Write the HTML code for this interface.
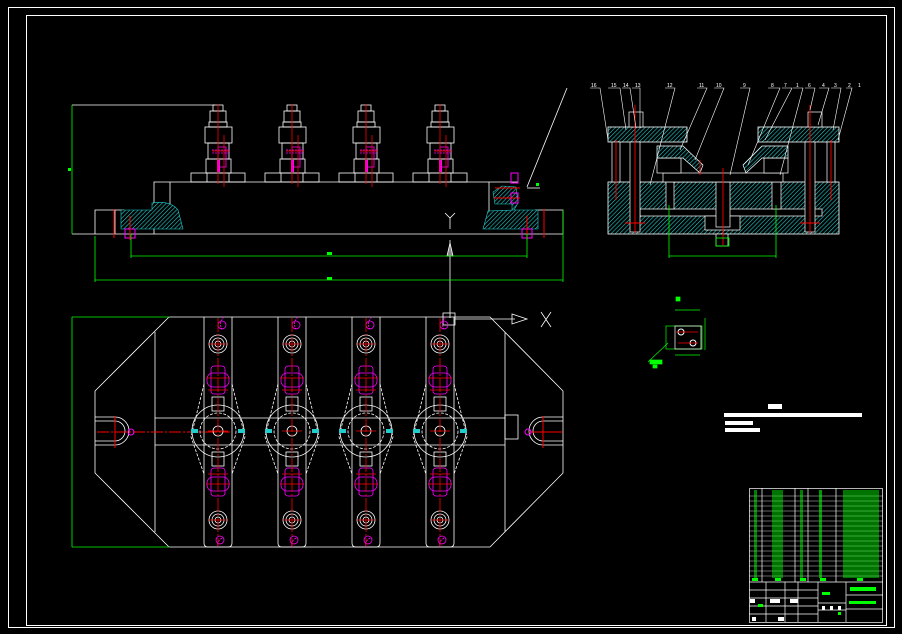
<!DOCTYPE html>
<html><head><meta charset="utf-8"><style>
html,body{margin:0;padding:0;background:#000;}
svg{display:block}
text{font-family:"Liberation Sans",sans-serif;}
</style></head><body>
<svg width="902" height="634" viewBox="0 0 902 634" xmlns="http://www.w3.org/2000/svg">
<defs>
<pattern id="h" width="3" height="3" patternUnits="userSpaceOnUse" patternTransform="rotate(45)">
<rect width="3" height="3" fill="#000"/><line x1="0" y1="0" x2="0" y2="3" stroke="#2cc" stroke-width="1.2"/>
</pattern>
<g id="clampF" fill="none" stroke="#fff" stroke-width="0.8">
<rect x="-5" y="105" width="10" height="6"/>
<rect x="-8" y="111" width="16" height="11"/>
<rect x="-9" y="122" width="18" height="5"/>
<rect x="-13" y="127" width="27" height="16"/>
<rect x="-10" y="143" width="21" height="16"/>
<rect x="-12" y="159" width="25" height="14"/>
<rect x="-27" y="173" width="54" height="9"/>
<line x1="-11" y1="173" x2="-11" y2="182"/><line x1="11" y1="173" x2="11" y2="182"/>
<rect x="0" y="147" width="8" height="20" stroke="#f0f"/>
<rect x="-1" y="160" width="3" height="12" fill="#f0f" stroke="none"/>
<line x1="-6" y1="153" x2="12" y2="153" stroke="#f0f" stroke-dasharray="2 1"/>
<line x1="-6" y1="150" x2="12" y2="150" stroke="#f0f" stroke-dasharray="2 1"/>
<line x1="0" y1="104" x2="0" y2="184" stroke="#f00"/>
<line x1="6" y1="135" x2="6" y2="187" stroke="#f00"/>
<line x1="-6" y1="151" x2="12" y2="151" stroke="#f00"/>
</g>
<g id="clampP" fill="none" stroke="#fff" stroke-width="0.8">
<path d="M-14,317 V543 Q-14,547 -10,547 H10 Q14,547 14,543 V317"/>
<circle cx="0" cy="344" r="9"/><circle cx="0" cy="344" r="6"/><circle cx="0" cy="344" r="3"/>
<circle cx="0" cy="520" r="9"/><circle cx="0" cy="520" r="6"/><circle cx="0" cy="520" r="3"/>
<path d="M-14,384 L-27,437 L-14,474 M14,384 L27,437 L14,474" stroke-dasharray="3 1.5"/>
<circle cx="0" cy="431" r="26"/>
<circle cx="0" cy="431" r="18" stroke-dasharray="3 1.5"/>
<circle cx="0" cy="431" r="5"/>
<rect x="-6" y="397" width="12" height="14"/><rect x="-6" y="452" width="12" height="14"/>
<rect x="-7" y="366" width="14" height="28" stroke="#f0f" rx="3"/>
<rect x="-11" y="373" width="22" height="14" stroke="#f0f" rx="6"/>
<rect x="-7" y="468" width="14" height="28" stroke="#f0f" rx="3"/>
<rect x="-11" y="477" width="22" height="14" stroke="#f0f" rx="6"/>
<path d="M6,317 q-6,6 -2,12 M4,538 q-6,4 -4,9" stroke="#f0f" stroke-dasharray="2 1"/>
<circle cx="4" cy="325" r="4" stroke="#f0f"/><circle cx="2" cy="540" r="4" stroke="#f0f"/>
<line x1="0" y1="318" x2="0" y2="546" stroke="#f00" stroke-dasharray="14 2 2 2"/>
<line x1="-9" y1="344" x2="9" y2="344" stroke="#f00"/><line x1="-9" y1="520" x2="9" y2="520" stroke="#f00"/>
<line x1="-12" y1="378" x2="12" y2="378" stroke="#f00"/><line x1="-12" y1="484" x2="12" y2="484" stroke="#f00"/>
<line x1="-10" y1="390" x2="10" y2="390" stroke="#f00"/><line x1="-10" y1="474" x2="10" y2="474" stroke="#f00"/>
<line x1="-10" y1="431" x2="10" y2="431" stroke="#f00"/>
<rect x="-27" y="429" width="7" height="4" fill="#2cc" stroke="none"/>
<rect x="20" y="429" width="7" height="4" fill="#2cc" stroke="none"/>
</g>
</defs>

<rect width="902" height="634" fill="#000"/>
<rect x="8.5" y="7.5" width="886" height="620" fill="none" stroke="#fff" stroke-width="1"/>
<rect x="26.5" y="15.5" width="860" height="610" fill="none" stroke="#fff" stroke-width="1"/>

<!-- FRONT VIEW -->
<g fill="none" stroke="#fff" stroke-width="0.8">
<line x1="72" y1="105" x2="215" y2="105"/>
<line x1="72" y1="234" x2="563" y2="234"/>
<polyline points="154,234 154,182 518,182"/>
<line x1="170" y1="182" x2="170" y2="205"/>
<polyline points="95,234 95,210 124,210"/>
<polyline points="563,234 563,210 535,210"/>
<line x1="489" y1="182" x2="489" y2="215"/>
<line x1="115" y1="210" x2="115" y2="234"/>
</g>
<path d="M121,210 H152 V203 Q170,200 178,210 L183,229 H121 Z" fill="url(#h)" stroke="#2cc" stroke-width="0.6"/>
<path d="M538,210 H512 V204 H495 L493,192 L502,186 L516,187 L518,203 L514,210 L488,211 L483,229 H538 Z" fill="url(#h)" stroke="#2cc" stroke-width="0.6"/>
<g stroke="#f0f" stroke-width="1" fill="none">
<rect x="125" y="229" width="10" height="9"/><rect x="522" y="229" width="10" height="9"/>
<rect x="511" y="173" width="7" height="10"/><rect x="511" y="193" width="7" height="10"/>
</g>
<g stroke="#f00" stroke-width="1">
<line x1="114" y1="209" x2="114" y2="238"/><line x1="544" y1="209" x2="544" y2="238"/>
<line x1="130" y1="216" x2="130" y2="240"/><line x1="527" y1="216" x2="527" y2="240"/>
<line x1="495" y1="188" x2="520" y2="188"/><line x1="494" y1="198" x2="520" y2="198"/>
</g>
<use href="#clampF" x="218"/><use href="#clampF" x="292"/><use href="#clampF" x="366"/><use href="#clampF" x="440"/>
<g stroke="#fff" stroke-width="0.8" fill="none">
<path d="M445,213 L450,218 L455,213 M450,218 V229"/>
<line x1="450" y1="240" x2="450" y2="318"/>
<path d="M447,256 L450,243 L453,256 Z" fill="#888"/>
<line x1="527" y1="187" x2="567" y2="88"/>
<line x1="527" y1="188" x2="540" y2="188"/>
</g>
<g stroke="#0f0" stroke-width="0.8" fill="none">
<line x1="72" y1="105" x2="72" y2="234"/>
<line x1="131" y1="256" x2="527" y2="256"/><line x1="131" y1="234" x2="131" y2="258"/><line x1="527" y1="234" x2="527" y2="258"/>
<line x1="95" y1="280" x2="563" y2="280"/><line x1="95" y1="236" x2="95" y2="282"/><line x1="563" y1="210" x2="563" y2="282"/>
</g>
<rect x="327" y="252" width="5" height="3" fill="#0f0"/><rect x="327" y="277" width="5" height="3" fill="#0f0"/>
<rect x="68" y="168" width="3" height="3" fill="#0f0"/><rect x="536" y="183" width="3" height="3" fill="#0f0"/>

<!-- PLAN VIEW -->
<g fill="none" stroke="#fff" stroke-width="0.8">
<polygon points="169,317 490,317 563,391 563,473 490,547 169,547 95,473 95,391"/>
<line x1="155" y1="332" x2="155" y2="532"/><line x1="505" y1="332" x2="505" y2="532"/>
<line x1="155" y1="418" x2="505" y2="418"/><line x1="155" y1="445" x2="505" y2="445"/>
<path d="M95,417 H115 A14,14 0 0 1 115,445 H95 M95,421 H115 A10,10 0 0 1 115,441 H95"/>
<path d="M563,417 H543 A14,14 0 0 0 543,445 H563 M563,421 H543 A10,10 0 0 0 543,441 H563"/>
<rect x="505" y="415" width="13" height="24"/>
<rect x="443" y="313" width="12" height="12"/>
<line x1="455" y1="319" x2="515" y2="319"/>
<path d="M512,314 L527,319 L512,324 Z"/>
<path d="M541,312 L551,327 M551,312 L541,327"/>
</g>
<g stroke="#f00" stroke-width="1">
<line x1="97" y1="432" x2="230" y2="432" stroke-dasharray="12 2 2 2"/>
<line x1="115" y1="416" x2="115" y2="448"/><line x1="543" y1="416" x2="543" y2="448"/>
<line x1="529" y1="432" x2="562" y2="432"/>
</g>
<circle cx="131" cy="432" r="3" fill="none" stroke="#f0f"/><circle cx="528" cy="432" r="3" fill="none" stroke="#f0f"/>
<use href="#clampP" x="218"/><use href="#clampP" x="292"/><use href="#clampP" x="366"/><use href="#clampP" x="440"/>
<g stroke="#0f0" stroke-width="0.8"><line x1="72" y1="317" x2="169" y2="317"/><line x1="72" y1="547" x2="169" y2="547"/><line x1="72" y1="317" x2="72" y2="547"/></g>

<!-- SIDE VIEW -->
<rect x="608" y="182" width="231" height="52" fill="url(#h)" stroke="#fff" stroke-width="0.8"/>
<rect x="608" y="127" width="79" height="15" fill="url(#h)" stroke="#fff" stroke-width="0.8"/>
<rect x="758" y="127" width="81" height="15" fill="url(#h)" stroke="#fff" stroke-width="0.8"/>
<g fill="#000" stroke="#fff" stroke-width="0.7">
<rect x="640" y="209" width="182" height="7"/>
<rect x="705" y="216" width="35" height="14"/>
<rect x="666" y="182" width="8" height="27"/><rect x="772" y="182" width="9" height="27"/>
<rect x="716" y="182" width="14" height="45"/>
<rect x="612" y="142" width="8" height="40"/><rect x="827" y="142" width="8" height="40"/>
<rect x="630" y="142" width="10" height="90"/><rect x="805" y="142" width="10" height="90"/>
<rect x="663" y="173" width="120" height="9"/>
<rect x="657" y="158" width="24" height="15"/><rect x="764" y="158" width="24" height="15"/>
<rect x="629" y="112" width="14" height="15"/><rect x="808" y="112" width="14" height="15"/>
<rect x="716" y="234" width="12" height="12"/>
</g>
<path d="M657,146 L683,146 L703,165 L700,173 L683,158 L657,158Z" fill="url(#h)" stroke="#fff" stroke-width="0.7"/>
<path d="M788,146 L762,146 L743,165 L746,173 L762,158 L788,158Z" fill="url(#h)" stroke="#fff" stroke-width="0.7"/>
<g stroke="#f00" stroke-width="0.9">
<line x1="635" y1="105" x2="635" y2="233"/><line x1="810" y1="105" x2="810" y2="233"/>
<line x1="616" y1="140" x2="616" y2="200"/><line x1="831" y1="140" x2="831" y2="200"/>
<line x1="723" y1="168" x2="723" y2="245"/><line x1="700" y1="160" x2="700" y2="175"/>
<line x1="625" y1="223" x2="645" y2="223"/><line x1="800" y1="223" x2="820" y2="223"/>
</g>
<g stroke="#0f0" stroke-width="0.8" fill="none">
<line x1="669" y1="205" x2="669" y2="258"/><line x1="776" y1="205" x2="776" y2="258"/>
<line x1="669" y1="256" x2="776" y2="256"/>
<rect x="716" y="238" width="13" height="8"/>
</g>
<g stroke="#fff" stroke-width="0.6" fill="none">
<polyline points="608,88 620,88 626,130"/><polyline points="622,88 630,88 636,128"/>
<polyline points="632,88 640,88 640,128"/><polyline points="665,88 675,88 650,185"/>
<polyline points="697,88 707,88 680,150"/><polyline points="714,88 724,88 695,160"/>
<polyline points="740,88 750,88 730,175"/><polyline points="768,88 780,88 748,165"/>
<polyline points="782,88 792,88 765,140"/><polyline points="793,88 803,88 780,175"/>
<polyline points="805,88 815,88 810,110"/><polyline points="819,88 829,88 818,125"/>
<polyline points="831,88 841,88 833,130"/><polyline points="846,88 852,88 838,140"/>
<polyline points="590,88 600,88 608,140"/>
</g>
<g fill="#fff" font-size="5">
<text x="591" y="87">16</text><text x="611" y="87">15</text><text x="623" y="87">14</text><text x="635" y="87">13</text>
<text x="667" y="87">12</text><text x="699" y="87">11</text><text x="716" y="87">10</text><text x="743" y="87">9</text>
<text x="771" y="87">8</text><text x="784" y="87">7</text><text x="796" y="87">1</text><text x="808" y="87">6</text>
<text x="822" y="87">4</text><text x="834" y="87">3</text><text x="848" y="87">2</text><text x="858" y="87">1</text>
</g>

<!-- detail -->
<g stroke="#0f0" stroke-width="0.7" fill="none">
<rect x="666" y="326" width="36" height="23"/>
<line x1="675" y1="310" x2="700" y2="310"/>
<line x1="705" y1="318" x2="705" y2="350"/>
<line x1="675" y1="355" x2="700" y2="355"/>
<line x1="648" y1="362" x2="668" y2="343"/>
<rect x="650" y="360" width="12" height="4" fill="#0f0"/>
<rect x="676" y="297" width="4" height="4" fill="#0f0"/>
<rect x="653" y="365" width="4" height="3" fill="#0f0"/>
</g>
<rect x="675" y="326" width="26" height="23" fill="none" stroke="#fff" stroke-width="0.7"/>
<circle cx="681" cy="332" r="3" fill="none" stroke="#fff"/><circle cx="693" cy="343" r="3" fill="none" stroke="#fff"/>
<g stroke="#f00" stroke-width="0.7"><line x1="676" y1="332" x2="698" y2="332"/><line x1="678" y1="343" x2="698" y2="343"/></g>

<!-- notes -->
<g fill="#fff">
<rect x="768" y="404" width="14" height="5"/>
<rect x="724" y="413" width="138" height="4"/>
<rect x="725" y="421" width="28" height="4"/>
<rect x="725" y="428" width="35" height="4"/>
</g>

<!-- title block -->
<g stroke="#fff" stroke-width="0.7" fill="none">
<rect x="749.5" y="488.5" width="133" height="134"/>
<line x1="762" y1="488" x2="762" y2="582"/><line x1="795" y1="488" x2="795" y2="582"/>
<line x1="808" y1="488" x2="808" y2="582"/><line x1="836" y1="488" x2="836" y2="582"/>
<line x1="818" y1="582" x2="818" y2="622"/><line x1="846" y1="582" x2="846" y2="622"/>
<line x1="749" y1="582" x2="883" y2="582"/><line x1="749" y1="590" x2="818" y2="590"/>
<line x1="749" y1="598" x2="818" y2="598"/><line x1="749" y1="606" x2="818" y2="606"/>
<line x1="749" y1="614" x2="818" y2="614"/>
<line x1="846" y1="595" x2="883" y2="595"/><line x1="846" y1="609" x2="883" y2="609"/>
<line x1="818" y1="603" x2="846" y2="603"/><line x1="818" y1="610" x2="846" y2="610"/>
<line x1="766" y1="582" x2="766" y2="622"/><line x1="785" y1="582" x2="785" y2="622"/><line x1="798" y1="582" x2="798" y2="622"/>
</g>
<g stroke="#fff" stroke-width="0.4">
<line x1="749" y1="496" x2="883" y2="496"/><line x1="749" y1="501" x2="883" y2="501"/><line x1="749" y1="506" x2="883" y2="506"/>
<line x1="749" y1="511" x2="883" y2="511"/><line x1="749" y1="516" x2="883" y2="516"/><line x1="749" y1="521" x2="883" y2="521"/>
<line x1="749" y1="526" x2="883" y2="526"/><line x1="749" y1="531" x2="883" y2="531"/><line x1="749" y1="536" x2="883" y2="536"/>
<line x1="749" y1="541" x2="883" y2="541"/><line x1="749" y1="546" x2="883" y2="546"/><line x1="749" y1="551" x2="883" y2="551"/>
<line x1="749" y1="556" x2="883" y2="556"/><line x1="749" y1="561" x2="883" y2="561"/><line x1="749" y1="566" x2="883" y2="566"/>
<line x1="749" y1="571" x2="883" y2="571"/><line x1="749" y1="576" x2="883" y2="576"/>
</g>
<g fill="#0f0">
<rect x="754" y="490" width="3" height="88" opacity="0.5"/>
<rect x="772" y="490" width="11" height="88" opacity="0.45"/>
<rect x="800" y="490" width="3" height="88" opacity="0.5"/>
<rect x="819" y="490" width="3" height="88" opacity="0.6"/>
<rect x="843" y="490" width="36" height="88" opacity="0.45"/>
<rect x="752" y="578" width="6" height="3"/><rect x="775" y="578" width="6" height="3"/>
<rect x="800" y="578" width="6" height="3"/><rect x="820" y="578" width="6" height="3"/><rect x="857" y="578" width="6" height="3"/>
<rect x="822" y="592" width="8" height="3"/>
<rect x="850" y="587" width="26" height="4"/><rect x="849" y="601" width="27" height="3"/>
<rect x="758" y="604" width="5" height="3"/><rect x="838" y="612" width="3" height="3"/>
</g>
<g fill="#fff">
<rect x="750" y="599" width="5" height="4"/><rect x="770" y="599" width="10" height="4"/><rect x="790" y="599" width="8" height="4"/>
<rect x="752" y="617" width="4" height="4"/><rect x="778" y="617" width="6" height="4"/>
<rect x="822" y="606" width="3" height="4"/><rect x="830" y="606" width="3" height="4"/><rect x="838" y="606" width="3" height="4"/>
</g>
</svg>
</body></html>
